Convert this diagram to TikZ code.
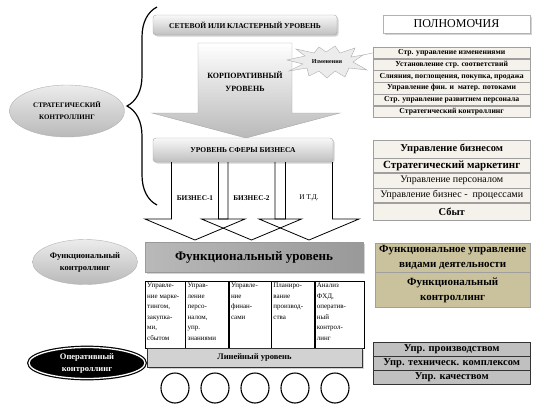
\documentclass[tikz,border=0pt]{standalone}
\usepackage{fontspec}
\setmainfont{Liberation Serif}
\usepackage{tikz}
\usetikzlibrary{positioning,shapes.geometric,shadows,decorations.pathreplacing}
\usepackage{xcolor}
\definecolor{beige}{RGB}{244,242,234}
\definecolor{khaki}{RGB}{202,194,156}
\definecolor{seryj}{RGB}{192,192,192}
\newcommand{\kol}[2]{\parbox[t][63pt][t]{#1}{\raggedright #2}}

\begin{document}
\begin{tikzpicture}[x=1pt, y=-1pt,
  ten/.style={drop shadow={opacity=0.35, shadow xshift=1.5pt, shadow yshift=-1.5pt}},
  lvlbox/.style={draw=gray!70, rounded corners=3pt, top color=gray!5, bottom color=gray!50, inner sep=0pt, font=\bfseries\fontsize{7.5}{9}\selectfont, ten},
  oval/.style={ellipse, draw=gray!60, top color=gray!15, bottom color=gray!55, inner sep=0pt, align=center},
  bigarrow/.style={draw=black, line width=0.8pt},
  powrow/.style={draw=gray!75, fill=beige, minimum width=157pt, minimum height=11.33pt, inner sep=0pt, font=\bfseries\fontsize{7.7}{8}\selectfont},
  bizrow/.style={draw=gray!75, fill=beige, minimum width=157pt, inner sep=0pt},
  funrow/.style={draw=gray!75, fill=khaki, minimum width=155pt, inner sep=0pt, align=center, font=\bfseries\fontsize{11}{15}\selectfont},
  uprrow/.style={draw=gray!40!black, fill=seryj, minimum width=157pt, minimum height=13.67pt, inner sep=0pt, font=\bfseries\fontsize{10.5}{12}\selectfont},
  colbox/.style={draw, anchor=north west, inner sep=2pt, font=\fontsize{7}{10.5}\selectfont},
  krug/.style={ellipse, draw, line width=1.1pt, minimum width=28pt, minimum height=30pt}]
\useasboundingbox (0,0) rectangle (535,407);

% strategic level
\node[oval, minimum width=115pt, minimum height=52pt, font=\bfseries\fontsize{7}{12}\selectfont] (strat) at (67,111) {СТРАТЕГИЧЕСКИЙ\\КОНТРОЛЛИНГ};
\coordinate (braceBot) at (157,205);
\coordinate (braceTop) at (157,7);
\draw[decorate, decoration={brace, amplitude=30pt}, line width=1.2pt] (braceBot) -- (braceTop);

\node[lvlbox, minimum width=184pt, minimum height=20pt] (net) at (245,25) {СЕТЕВОЙ ИЛИ КЛАСТЕРНЫЙ УРОВЕНЬ};
\draw[draw=gray!70, top color=white, bottom color=gray!55] (198,43) -- (292,43) -- (292,113) -- (340,113) -- (246,138) -- (152,113) -- (198,113) -- cycle;
\node[font=\bfseries\fontsize{8}{13}\selectfont, align=center] (korp) at (245,82) {КОРПОРАТИВНЫЙ\\УРОВЕНЬ};

% changes
\node[font=\bfseries\fontsize{6}{7}\selectfont, inner sep=0pt] (izm) at (327,62) {Изменения};
\begin{scope}[shift={(izm.center)}]
\draw[draw=gray!65, fill=gray!15] (-40,-2) -- (-22,-6) -- (-31,-13) -- (-13,-9) -- (-8,-15) -- (-1,-10) -- (8,-16) -- (13,-9) -- (28,-14) -- (24,-5) -- (36,-7) -- (26,0) -- (40,8) -- (22,6) -- (18,15) -- (8,9) -- (0,16) -- (-8,9) -- (-18,14) -- (-20,6) -- (-38,9) -- (-24,2) -- cycle;
\coordinate (izmtip) at (36,-7);
\end{scope}
\node[font=\bfseries\fontsize{6}{7}\selectfont, inner sep=0pt] at (izm) {Изменения};

% powers
\node[draw=gray!60, fill=white, minimum width=147pt, minimum height=18pt, inner sep=0pt, font=\fontsize{12}{14}\selectfont, ten] (poln) at (456.5,24) {ПОЛНОМОЧИЯ};
\node[powrow, anchor=north west] (pow1) at (373,47) {Стр. управление изменениями};
\node[powrow, below=0pt of pow1] (pow2) {Установление стр. соответствий};
\node[powrow, below=0pt of pow2] (pow3) {Слияния, поглощения, покупка, продажа};
\node[powrow, below=0pt of pow3] (pow4) {Управление фин. и \ матер. потоками};
\node[powrow, below=0pt of pow4] (pow5) {Стр. управление развитием персонала};
\node[powrow, below=0pt of pow5] (pow6) {Стратегический контроллинг};
\draw[gray!70] (izmtip) -- (pow1.west);

% business level
\node[lvlbox, minimum width=180pt, minimum height=24pt] (biz) at (243,150) {УРОВЕНЬ СФЕРЫ БИЗНЕСА};
\foreach \c/\n in {195/1, 251.5/2, 309/3}
  \draw[bigarrow] (\c-23.5,162) -- (\c-23.5,219) -- (\c-50,219) -- (\c,240) -- (\c+50,219) -- (\c+23.5,219) -- (\c+23.5,162);
\node[font=\bfseries\fontsize{7.3}{9}\selectfont] (b1) at (195,198) {БИЗНЕС-1};
\node[font=\bfseries\fontsize{7.3}{9}\selectfont] (b2) at (251.5,198) {БИЗНЕС-2};
\node[font=\fontsize{7.3}{9}\selectfont] (b3) at (309,198) {И Т.Д.};

\node[bizrow, anchor=north west, minimum height=18pt, font=\bfseries\fontsize{10.5}{12}\selectfont] (bz1) at (373,140) {Управление бизнесом};
\node[bizrow, below=0pt of bz1, minimum height=14pt, font=\bfseries\fontsize{11}{12}\selectfont] (bz2) {Стратегический маркетинг};
\node[bizrow, below=0pt of bz2, minimum height=15pt, font=\fontsize{10}{11}\selectfont] (bz3) {Управление персоналом};
\node[bizrow, below=0pt of bz3, minimum height=14pt, font=\fontsize{10}{11}\selectfont] (bz4) {Управление бизнес - \ процессами};
\node[bizrow, below=0pt of bz4, minimum height=17pt, font=\bfseries\fontsize{10.5}{12}\selectfont] (bz5) {Сбыт};

% functional level
\node[oval, minimum width=105pt, minimum height=45pt, font=\bfseries\fontsize{8.5}{12}\selectfont] (func) at (85,262) {Функциональный\\контроллинг};
\node[draw=gray!80, left color=gray!55, middle color=gray!25, right color=gray!80, minimum width=218pt, minimum height=30pt, inner sep=0pt, font=\bfseries\fontsize{13}{15}\selectfont, ten] (funlvl) at (254,257) {Функциональный уровень};
\node[funrow, anchor=north west, minimum height=29pt] (fn1) at (375,243) {Функциональное управление\\видами деятельности};
\node[funrow, below=0pt of fn1, minimum height=35pt] (fn2) {Функциональный\\контроллинг};

\node[colbox] (c1) at (145,281) {\kol{36pt}{Управле-\\ние марке-\\тингом,\\закупка-\\ми,\\сбытом}};
\node[colbox] (c2) at (c1.north east) {\kol{39pt}{Управ-\\ление\\персо-\\налом,\\упр.\\знаниями}};
\node[colbox] (c3) at (c2.north east) {\kol{38pt}{Управле-\\ние\\финан-\\сами}};
\node[colbox] (c4) at (c3.north east) {\kol{39pt}{Планиро-\\вание\\производ-\\ства}};
\node[colbox] (c5) at (c4.north east) {\kol{45pt}{Анализ\\ФХД,\\оператив-\\ный\\контрол-\\линг}};

% operational level
\node[ellipse, fill=black, draw=black, double=white, double distance=1.3pt, line width=1.2pt, minimum width=116pt, minimum height=31pt, inner sep=0pt, text=white, align=center, font=\bfseries\fontsize{8.5}{12}\selectfont] (oper) at (87,363) {Оперативный\\контроллинг};
\node[draw=gray!40!black, fill=gray!35, line width=1pt, minimum width=215pt, minimum height=19pt, inner sep=0pt, font=\bfseries\fontsize{8.5}{10}\selectfont, ten] (lin) at (254.5,357.5) {Линейный уровень};
\foreach \x [count=\i] in {175,215,255,295,335}
  \node[krug] (k\i) at (\x,388) {};

\node[uprrow, anchor=north west] (up1) at (373,342) {Упр. производством};
\node[uprrow, below=0pt of up1] (up2) {Упр. техническ. комплексом};
\node[uprrow, below=0pt of up2] (up3) {Упр. качеством};
\end{tikzpicture}
\end{document}
